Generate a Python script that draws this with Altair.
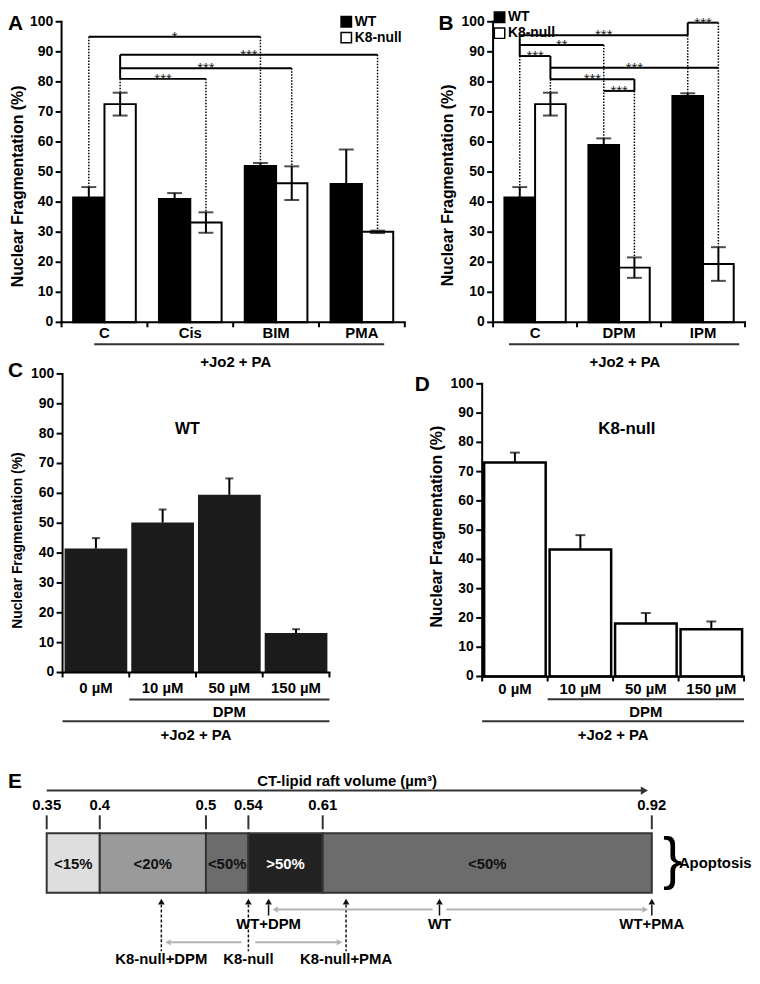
import altair as alt
import pandas as pd

FONT = "Liberation Sans"
W, H = 750, 960

# ---------------- data ----------------
series = ["WT", "K8-null"]

a_cats = ["C", "Cis", "BIM", "PMA"]
a_wt = [41.5, 41.0, 52.0, 46.0]
a_wt_err = [3.5, 2.0, 1.0, 11.5]
a_k8 = [72.6, 33.2, 46.3, 30.1]
a_k8_err = [3.8, 3.4, 5.6, 0.4]
a_brackets = [("C", "WT", "BIM", "WT", 95.0, "*"),
              ("C", "K8-null", "PMA", "K8-null", 89.0, "***"),
              ("C", "K8-null", "BIM", "K8-null", 84.5, "***"),
              ("C", "K8-null", "Cis", "K8-null", 81.0, "***")]
a_solid_legs = [("C", "K8-null", 89.0, 81.0)]
a_dotted_legs = [("C", "WT", 95.0, 45.3), ("BIM", "WT", 95.0, 53.3),
                 ("PMA", "K8-null", 89.0, 30.8), ("BIM", "K8-null", 84.5, 52.2),
                 ("Cis", "K8-null", 81.0, 36.9), ("C", "K8-null", 81.0, 76.7)]

b_cats = ["C", "DPM", "IPM"]
b_wt = [41.5, 59.0, 75.3]
b_wt_err = [3.5, 2.2, 0.9]
b_k8 = [72.6, 18.2, 19.4]
b_k8_err = [3.8, 3.4, 5.6]
b_brackets = [("IPM", "WT", "IPM", "K8-null", 99.7, "***"),
              ("C", "WT", "IPM", "WT", 95.5, "***"),
              ("C", "WT", "DPM", "WT", 92.3, "**"),
              ("C", "WT", "C", "K8-null", 88.6, "***"),
              ("C", "K8-null", "IPM", "K8-null", 84.7, "***"),
              ("C", "K8-null", "DPM", "K8-null", 80.9, "***"),
              ("DPM", "WT", "DPM", "K8-null", 77.0, "***")]
b_solid_legs = [("IPM", "WT", 99.7, 95.5), ("C", "WT", 95.5, 88.6),
                ("C", "K8-null", 88.6, 80.9), ("DPM", "K8-null", 80.9, 77.0)]
b_dotted_legs = [("IPM", "WT", 95.5, 76.4), ("DPM", "WT", 92.3, 61.4),
                 ("C", "WT", 88.6, 45.2), ("C", "K8-null", 80.9, 76.6),
                 ("IPM", "K8-null", 99.7, 25.2), ("DPM", "K8-null", 77.0, 21.8)]

c_doses = ["0 µM", "10 µM", "50 µM", "150 µM"]
c_wt = [41.5, 50.2, 59.5, 13.2]
c_wt_err = [3.5, 4.4, 5.5, 1.3]
d_k8 = [73.1, 43.4, 18.1, 16.1]
d_k8_err = [3.4, 4.9, 3.6, 2.7]

y_ticks = list(range(0, 101, 10))

e_edges = [0.35, 0.40, 0.50, 0.54, 0.61, 0.92]
e_apoptosis = ["<15%", "<20%", "<50%", ">50%", "<50%"]
e_wt_labels = ["WT+DPM", "WT", "WT+PMA"]
e_wt_volume = [0.559, 0.720, 0.920]
e_k8_labels = ["K8-null+DPM", "K8-null", "K8-null+PMA"]
e_k8_volume = [0.458, 0.540, 0.632]

# ---------------- layout (pixels inside the chart) ----------------
GA = dict(x0=54, x1=400, y0=313, y1=10)
GB = dict(x0=489, x1=743, y0=313, y1=10)
GC = dict(x0=55, x1=324, y0=666, y1=365)
GD = dict(x0=478, x1=742, y0=670, y1=375)
GE = dict(x0=39, x1=649, y0=767, y1=967)
BAR_SPAN = {"WT": (0.135, 0.5), "K8-null": (0.5, 0.865)}


class Panel:
    def __init__(self, g, n):
        self.g, self.n = g, n
        self.xs = alt.Scale(domain=[0, n], range=[g["x0"], g["x1"]], nice=False, zero=False)
        self.ys = alt.Scale(domain=[0, 100], range=[g["y0"], g["y1"]], nice=False, zero=False)
        self.bx = (g["x1"] - g["x0"]) / n
        self.by = (g["y0"] - g["y1"]) / 100.0

    def ux(self, px):  # chart pixel -> x units
        return (px - self.g["x0"]) / self.bx

    def uy(self, px):  # chart pixel -> y units
        return (self.g["y0"] - px) / self.by

    def X(self, f):
        return alt.X(f, scale=self.xs, axis=None)

    def Y(self, f, **kw):
        return alt.Y(f, scale=self.ys, axis=None, **kw)

    def texts(self, rows, **mk):
        return alt.Chart(pd.DataFrame(rows)).mark_text(**mk).encode(
            x=self.X("x:Q"), y=self.Y("y:Q"), text="t:N")

    def hrules(self, rows, **mk):
        return alt.Chart(pd.DataFrame(rows)).mark_rule(**mk).encode(
            x=self.X("xa:Q"), x2="xb:Q", y=self.Y("y:Q"))

    def vrules(self, rows, **mk):
        return alt.Chart(pd.DataFrame(rows)).mark_rule(**mk).encode(
            x=self.X("x:Q"), y=self.Y("ya:Q"), y2="yb:Q")

    def axes(self, labels, label_gap, title_px, title_size):
        n = self.n
        tick_x = -6 / self.bx
        tick_y = -5 / self.by
        layers = [
            self.hrules([dict(xa=0, xb=n, y=0)], color="black", strokeWidth=2, strokeCap="square"),
            self.vrules([dict(x=0, ya=0, yb=100)], color="black", strokeWidth=2, strokeCap="square"),
            self.hrules([dict(xa=0, xb=tick_x, y=v) for v in y_ticks], color="black", strokeWidth=2),
            self.vrules([dict(x=i, ya=0, yb=tick_y) for i in range(n + 1)], color="black", strokeWidth=2),
            self.texts([dict(x=-8.5 / self.bx, y=v, t=str(v)) for v in y_ticks],
                       align="right", baseline="middle", fontSize=14),
            self.texts([dict(x=i + 0.5, y=-label_gap / self.by, t=lab) for i, lab in enumerate(labels)],
                       baseline="top", fontSize=15),
            self.texts([dict(x=self.ux(title_px[0]), y=self.uy(title_px[1]), t="Nuclear Fragmentation (%)")],
                       angle=270, fontSize=title_size),
        ]
        return layers


def grouped_panel(letter, cats, wt, wt_err, k8, k8_err, brackets, solid, dotted, g,
                  legend_px, title_px, line_span, text_x):
    n = len(cats)
    P = Panel(g, n)
    rows = []
    for i, c in enumerate(cats):
        for s, v, e in (("WT", wt[i], wt_err[i]), ("K8-null", k8[i], k8_err[i])):
            a, b = BAR_SPAN[s]
            rows.append(dict(cat=c, series=s, value=v, base=0.0, lo=v - e, hi=v + e,
                             x0=i + a, x1=i + b, xc=i + (a + b) / 2))
    df = pd.DataFrame(rows)
    centre = {(r["cat"], r["series"]): r["xc"] for r in rows}
    fill_scale = alt.Scale(domain=series, range=["#000000", "#ffffff"])

    bars = alt.Chart(df).mark_bar(stroke="black", strokeWidth=2).encode(
        x=P.X("x0:Q"), x2="x1:Q", y=P.Y("value:Q", stack=None), y2="base:Q",
        fill=alt.Fill("series:N", scale=fill_scale, legend=None))
    err = alt.Chart(df).mark_rule(color="black", strokeWidth=2).encode(
        x=P.X("xc:Q"), y=P.Y("lo:Q"), y2="hi:Q")
    cap_hi = alt.Chart(df).mark_tick(color="black", thickness=2, size=15, orient="horizontal").encode(
        x=P.X("xc:Q"), y=P.Y("hi:Q"))
    cap_lo = alt.Chart(df).mark_tick(color="black", thickness=2, size=15, orient="horizontal").encode(
        x=P.X("xc:Q"), y=P.Y("lo:Q"))

    br = [dict(xa=centre[(c1, s1)], xb=centre[(c2, s2)], y=lv) for c1, s1, c2, s2, lv, st in brackets]
    stars = [dict(x=(centre[(c1, s1)] + centre[(c2, s2)]) / 2, y=lv, t=st)
             for c1, s1, c2, s2, lv, st in brackets]
    sol = [dict(x=centre[(c, s)], ya=a, yb=b) for c, s, a, b in solid]
    dot = [dict(x=centre[(c, s)], ya=a, yb=b) for c, s, a, b in dotted]

    lx, ly, step = legend_px
    leg = pd.DataFrame(dict(series=series, x=[P.ux(lx)] * 2, y=[P.uy(ly), P.uy(ly + step)],
                            tx=[P.ux(lx + 8.5)] * 2))
    leg_sq = alt.Chart(leg).mark_point(shape="square", filled=True, size=110, stroke="black",
                                       strokeWidth=1.5, opacity=1).encode(
        x=P.X("x:Q"), y=P.Y("y:Q"), fill=alt.Fill("series:N", scale=fill_scale, legend=None))
    leg_tx = alt.Chart(leg).mark_text(align="left", fontSize=14).encode(
        x=P.X("tx:Q"), y=P.Y("y:Q"), text="series:N")

    layers = [bars, err, cap_hi, cap_lo,
              P.vrules(dot, color="black", strokeWidth=1.5, strokeDash=[1.5, 1.5]),
              P.vrules(sol, color="black", strokeWidth=2),
              P.hrules(br, color="black", strokeWidth=2),
              P.texts(stars, fontSize=15, fontWeight="normal", baseline="alphabetic", dy=5,
                      color="#222222"),
              leg_sq, leg_tx,
              P.hrules([dict(xa=line_span[0], xb=line_span[1], y=-7.3)], color="#333333", strokeWidth=2),
              P.texts([dict(x=text_x, y=-13.2, t="+Jo2 + PA")], fontSize=15),
              P.texts([dict(x=P.ux(letter[1]), y=P.uy(letter[2]), t=letter[0])], fontSize=21,
                      align="left")]
    layers += P.axes(cats, 4, title_px, 16)
    return alt.layer(*layers)


def single_panel(letter, doses, vals, errs, g, fill, stroke, sw, caption, title_px, title_size,
                 cap_w, levels, label_gap):
    n = len(doses)
    P = Panel(g, n)
    df = pd.DataFrame(dict(dose=doses, value=vals, base=0.0,
                           hi=[v + e for v, e in zip(vals, errs)],
                           x0=[i + 0.03 for i in range(n)], x1=[i + 0.97 for i in range(n)],
                           xc=[i + 0.5 for i in range(n)]))
    bar_kw = dict(fill=fill)
    if stroke:
        bar_kw.update(stroke=stroke, strokeWidth=sw)
    bars = alt.Chart(df).mark_bar(**bar_kw).encode(
        x=P.X("x0:Q"), x2="x1:Q", y=P.Y("value:Q", stack=None), y2="base:Q")
    err = alt.Chart(df).mark_rule(color="black", strokeWidth=2).encode(
        x=P.X("xc:Q"), y=P.Y("value:Q"), y2="hi:Q")
    cap = alt.Chart(df).mark_tick(color="black", thickness=2, size=cap_w, orient="horizontal").encode(
        x=P.X("xc:Q"), y=P.Y("hi:Q"))
    l1, t1, l2, t2 = levels
    layers = [bars, err, cap,
              P.texts([dict(x=caption[1], y=caption[2], t=caption[0])], fontSize=caption[3]),
              P.hrules([dict(xa=1, xb=n, y=l1), dict(xa=0, xb=n, y=l2)], color="#333333", strokeWidth=2),
              P.texts([dict(x=2.5, y=t1, t="DPM"), dict(x=2.0, y=t2, t="+Jo2 + PA")], fontSize=15),
              P.texts([dict(x=P.ux(letter[1]), y=P.uy(letter[2]), t=letter[0])], fontSize=21,
                      align="left")]
    layers += P.axes(doses, label_gap, title_px, title_size)
    return alt.layer(*layers)


def panel_e():
    xs = alt.Scale(domain=[0.35, 0.92], range=[GE["x0"], GE["x1"]], nice=False, zero=False)
    ys = alt.Scale(domain=[0, 200], range=[GE["y0"], GE["y1"]], nice=False, zero=False)

    def X(f):
        return alt.X(f, scale=xs, axis=None)

    def Y(f):
        return alt.Y(f, scale=ys, axis=None)

    def texts(rows, **mk):
        return alt.Chart(pd.DataFrame(rows)).mark_text(**mk).encode(x=X("x:Q"), y=Y("y:Q"), text="t:N")

    def hrules(rows, **mk):
        return alt.Chart(pd.DataFrame(rows)).mark_rule(**mk).encode(x=X("xa:Q"), x2="xb:Q", y=Y("y:Q"))

    seg = pd.DataFrame(dict(lo=e_edges[:-1], hi=e_edges[1:], label=e_apoptosis,
                            mid=[(a + b) / 2 for a, b in zip(e_edges[:-1], e_edges[1:])],
                            ya=[61] * 5, yb=[121] * 5, yl=[92] * 5))
    rect = alt.Chart(seg).mark_rect(stroke="#333333", strokeWidth=2).encode(
        x=X("lo:Q"), x2="hi:Q", y=Y("ya:Q"), y2="yb:Q",
        fill=alt.Fill("label:N", legend=None,
                      scale=alt.Scale(domain=["<15%", "<20%", "<50%", ">50%"],
                                      range=["#dedede", "#9a9a9a", "#6c6c6c", "#222222"])))
    seg_txt = alt.Chart(seg).mark_text(fontSize=15).encode(
        x=X("mid:Q"), y=Y("yl:Q"), text="label:N",
        color=alt.condition(alt.datum.label == ">50%", alt.value("white"), alt.value("#111111")))
    ticks = pd.DataFrame(dict(v=e_edges, t=[f"{v:g}" for v in e_edges], ya=[43] * 6, yb=[57] * 6,
                              yt=[33] * 6))
    tick_rules = alt.Chart(ticks).mark_rule(color="#333333", strokeWidth=2).encode(
        x=X("v:Q"), y=Y("ya:Q"), y2="yb:Q")
    tick_txt = alt.Chart(ticks).mark_text(fontSize=15).encode(x=X("v:Q"), y=Y("yt:Q"), text="t:N")
    axis_line = hrules([dict(xa=e_edges[0], xb=0.912, y=18)], color="#333333", strokeWidth=2)
    axis_head = alt.Chart(pd.DataFrame([dict(x=0.913, y=18)])).mark_point(
        shape="triangle-right", filled=True, size=70, color="#333333", opacity=1).encode(
        x=X("x:Q"), y=Y("y:Q"))
    title = texts([dict(x=0.633, y=8, t="CT-lipid raft volume (µm³)")], fontSize=15)

    wt = pd.DataFrame(dict(v=e_wt_volume, t=e_wt_labels, head=[130] * 3, sa=[133] * 3, sb=[144] * 3,
                           yl=[153] * 3))
    k8 = pd.DataFrame(dict(v=e_k8_volume, t=e_k8_labels, head=[130] * 3, sa=[133] * 3, sb=[180] * 3,
                           yl=[188] * 3))
    arrow_layers = []
    for df, dash in ((wt, None), (k8, [3, 2])):
        kw = dict(color="#111111", strokeWidth=1.5)
        if dash:
            kw["strokeDash"] = dash
        arrow_layers += [
            alt.Chart(df).mark_rule(**kw).encode(x=X("v:Q"), y=Y("sa:Q"), y2="sb:Q"),
            alt.Chart(df).mark_point(shape="triangle-up", filled=True, size=45, color="#111111",
                                     opacity=1).encode(x=X("v:Q"), y=Y("head:Q")),
            alt.Chart(df).mark_text(fontSize=15).encode(x=X("v:Q"), y=Y("yl:Q"), text="t:N"),
        ]
    gap_c, gap_t = 0.0065, 0.0062
    gray, heads = [], []
    for vols, lvl in ((e_wt_volume, 138), (e_k8_volume, 171)):
        left, mid, right = vols
        gray += [dict(xa=mid - gap_c, xb=left + gap_t, y=lvl), dict(xa=mid + gap_c, xb=right - gap_t, y=lvl)]
        heads += [dict(x=left + gap_t, y=lvl, s="triangle-left"),
                  dict(x=right - gap_t, y=lvl, s="triangle-right")]
    gray_rules = hrules(gray, color="#b3b3b3", strokeWidth=2)
    gray_heads = alt.Chart(pd.DataFrame(heads)).mark_point(filled=True, size=40, color="#b3b3b3",
                                                           opacity=1).encode(
        x=X("x:Q"), y=Y("y:Q"), shape=alt.Shape("s:N", scale=None))
    brace = texts([dict(x=0.9395, y=89, t="}")], fontSize=58, fontWeight="normal")
    apop = texts([dict(x=0.9455, y=91, t="Apoptosis")], fontSize=15, align="left")
    letter = texts([dict(x=0.3136, y=9, t="E")], fontSize=21, align="left")
    return alt.layer(rect, seg_txt, tick_rules, tick_txt, axis_line, axis_head, title,
                     *arrow_layers, gray_rules, gray_heads, brace, apop, letter)


pA = grouped_panel(("A", 0, 12), a_cats, a_wt, a_wt_err, a_k8, a_k8_err,
                   a_brackets, a_solid_legs, a_dotted_legs, GA, (341, 10, 16), (10, 176),
                   (0.38, 3.76), 2.03)
pB = grouped_panel(("B", 434, 12), b_cats, b_wt, b_wt_err, b_k8, b_k8_err,
                   b_brackets, b_solid_legs, b_dotted_legs, GB, (495.5, 5.5, 16), (444, 175),
                   (0.19, 2.93), 1.57)
pC = single_panel(("C", 0, 362), c_doses, c_wt, c_wt_err, GC, "#1b1b1b", None, 0,
                  ("WT", 1.87, 81.6, 16), (10, 533), 14, 8, (-9.0, -13.3, -16.3, -20.9), 9)
pD = single_panel(("D", 410, 376.5), c_doses, d_k8, d_k8_err, GD, "#ffffff", "black", 2.5,
                  ("K8-null", 2.21, 84.7, 17), (433, 519), 16, 10, (-7.8, -12.2, -15.3, -20.0), 6)
pE = panel_e()

chart = alt.layer(pA, pB, pC, pD, pE).resolve_scale(
    x="independent", y="independent", fill="independent", shape="independent"
).properties(
    width=W, height=H, autosize=alt.AutoSizeParams(type="none"), padding=0
).configure(font=FONT).configure_view(stroke=None).configure_text(
    font=FONT, fontWeight="bold", fontSize=15, color="black"
)

chart.save("out.html", embed_options={"renderer": "svg", "actions": False})
